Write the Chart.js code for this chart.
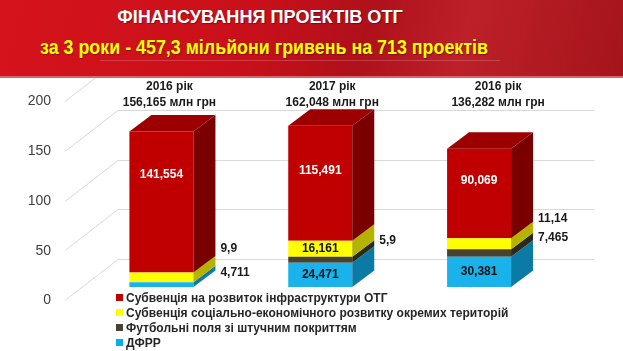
<!DOCTYPE html>
<html lang="uk">
<head>
<meta charset="utf-8">
<title>Фінансування проектів ОТГ</title>
<script src="https://cdn.jsdelivr.net/npm/chart.js@4.4.1/dist/chart.umd.min.js"></script>
<style>
  html, body { margin: 0; padding: 0; background: #fff; }
  #wrap { position: relative; width: 623px; height: 351px; overflow: hidden;
          font-family: "Liberation Sans", Arial, sans-serif; }
  #chartBox { position: absolute; left: 0; top: 0; width: 623px; height: 351px; }
  #banner { position: absolute; left: 0; top: 0; width: 623px; height: 76px; z-index: 2;
            background: linear-gradient(105deg, #d5131c 0%, #c9101a 40%, #af111a 58%, #bd2028 74%, #a5141b 100%);
            border-bottom: 2px solid #d9646a; }
  #banner .line { position: absolute; left: 100px; top: 60px; width: 400px; height: 0;
                  border-top: 1px solid rgba(255,255,255,0.18); }
  .ttl { position: absolute; white-space: nowrap; font-weight: bold; line-height: 1;
         text-shadow: 1px 1px 1px rgba(0,0,0,0.35); }
  #t1 { left: 260px; top: 8px; font-size: 18.5px; color: #fff; }
  #t2 { left: 264px; top: 37px; font-size: 20px; color: #ffff00; }
  #legend { position: absolute; left: 116px; top: 291px; z-index: 1;
            font-size: 12px; font-weight: bold; color: #262626; line-height: 15px; }
  #legend .sw { display: inline-block; width: 7px; height: 7px; margin-right: 3px; vertical-align: 1px; }
</style>
</head>
<body>
<div id="wrap">
  <div id="chartBox"><canvas id="otgChart"></canvas></div>
  <div id="banner">
    <div class="line"></div>
    <div class="ttl" id="t1">ФІНАНСУВАННЯ ПРОЕКТІВ ОТГ</div>
    <div class="ttl" id="t2">за 3 роки - 457,3 мільйони гривень на 713 проектів</div>
  </div>
  <div id="legend"></div>
</div>
<script>
// data (млн грн)
const years = ['2016 рік', '2017 рік', '2016 рік'];
const totals = ['156,165 млн грн', '162,048 млн грн', '136,282 млн грн'];
const dfrr = [4.711, 24.471, 30.381];
const football = [0, 5.9, 7.465];
const socialSubv = [9.9, 16.161, 11.14];
const infraSubv = [141.554, 115.491, 90.069];
const yTicks = [0, 50, 100, 150, 200];

Chart.defaults.font.family = '"Liberation Sans", Arial, sans-serif';

const depth = { dx: 22, dy: 16.5 };   // bar extrusion
const wall = { dx: 36, dy: 28 };      // floor depth to back wall

const fmt = v => String(v).replace('.', ',');

const bars3d = {
  id: 'bars3d',
  beforeDatasetsDraw(chart) {
    const { ctx, chartArea, scales } = chart;
    const y = scales.y;
    ctx.save();
    ctx.strokeStyle = '#d9d9d9';
    ctx.lineWidth = 1;
    yTicks.forEach(v => {
      const py = Math.round(y.getPixelForValue(v)) + 0.5;
      ctx.beginPath();
      ctx.moveTo(chartArea.left - 17, py + 13);
      ctx.lineTo(chartArea.left + wall.dx, py - wall.dy);
      ctx.lineTo(chartArea.right + wall.dx, py - wall.dy);
      ctx.stroke();
    });
    ctx.restore();
  },
  afterDatasetsDraw(chart) {
    const { ctx, chartArea } = chart;
    const sets = chart.data.datasets;
    ctx.save();
    // side and top faces
    sets.forEach((ds, di) => {
      const meta = chart.getDatasetMeta(di);
      meta.data.forEach((bar, i) => {
        if (!ds.data[i]) return;
        const { x, y, base, width } = bar.getProps(['x', 'y', 'base', 'width'], true);
        const l = x - width / 2, r = x + width / 2;
        ctx.fillStyle = ds.sideColor;
        ctx.beginPath();
        ctx.moveTo(r, base);
        ctx.lineTo(r, y);
        ctx.lineTo(r + depth.dx, y - depth.dy);
        ctx.lineTo(r + depth.dx, base - depth.dy);
        ctx.closePath();
        ctx.fill();
        const isTop = sets.slice(di + 1).every(o => !o.data[i]);
        if (isTop) {
          ctx.fillStyle = ds.topColor;
          ctx.beginPath();
          ctx.moveTo(l, y);
          ctx.lineTo(l + depth.dx, y - depth.dy);
          ctx.lineTo(r + depth.dx, y - depth.dy);
          ctx.lineTo(r, y);
          ctx.closePath();
          ctx.fill();
        }
      });
    });
    // value labels
    ctx.font = 'bold 12px "Liberation Sans", Arial, sans-serif';
    ctx.textBaseline = 'middle';
    sets.forEach((ds, di) => {
      const meta = chart.getDatasetMeta(di);
      meta.data.forEach((bar, i) => {
        const v = ds.data[i];
        const place = ds.labelPlace[i];
        if (!v || !place) return;
        const { x, y, base, width } = bar.getProps(['x', 'y', 'base', 'width'], true);
        if (place === 'in') {
          ctx.textAlign = 'center';
          ctx.fillStyle = ds.labelColor;
          const ty = ds.labelDy ? y + ds.labelDy[i] : (y + base) / 2;
          ctx.fillText(fmt(v), x, ty);
        } else {
          ctx.textAlign = 'left';
          ctx.fillStyle = '#1a1a1a';
          ctx.fillText(fmt(v), x + width / 2 + 27, y + ds.outDy[i]);
        }
      });
    });
    // headers above the stacks
    const headerDx = [8, 12, 19];
    ctx.textAlign = 'center';
    ctx.fillStyle = '#1a1a1a';
    chart.getDatasetMeta(0).data.forEach((bar, i) => {
      const hx = bar.x + headerDx[i];
      ctx.fillText(years[i], hx, chartArea.top - 1.5);
      ctx.fillText(totals[i], hx, chartArea.top + 15);
    });
    ctx.restore();
  }
};

const chart = new Chart(document.getElementById('otgChart'), {
  type: 'bar',
  data: {
    labels: years,
    datasets: [
      { label: 'ДФРР', data: dfrr, backgroundColor: '#19b2ea', sideColor: '#0b7ba6', topColor: '#3cc4f2',
        legendColor: '#00b0f0', labelPlace: ['out', 'in', 'in'], labelColor: '#111', outDy: [-10, 0, 0] },
      { label: 'Футбольні поля зі штучним покриттям', data: football, backgroundColor: '#4a4030',
        sideColor: '#2d281c', topColor: '#5a5040', legendColor: '#4a4232',
        labelPlace: [null, 'out', 'out'], labelColor: '#111', outDy: [0, -16, -12] },
      { label: 'Субвенція соціально-економічного розвитку окремих територій', data: socialSubv,
        backgroundColor: '#ffff00', sideColor: '#b3b300', topColor: '#d8d800', legendColor: '#ffff00',
        labelPlace: ['out', 'in', 'out'], labelColor: '#111', outDy: [-24, 0, -20] },
      { label: 'Субвенція на розвиток інфраструктури ОТГ', data: infraSubv, backgroundColor: '#c00000',
        sideColor: '#7a0000', topColor: '#9c0000', legendColor: '#c00000',
        labelPlace: ['in', 'in', 'in'], labelColor: '#fff', labelDy: [43, 45, 32] }
    ]
  },
  options: {
    responsive: true,
    maintainAspectRatio: false,
    animation: false,
    layout: { padding: { top: 88, bottom: 64, left: 0, right: 64.5 } },
    datasets: { bar: { barPercentage: 0.403, categoryPercentage: 1 } },
    plugins: { legend: { display: false }, tooltip: { enabled: false } },
    scales: {
      x: { stacked: true, display: false },
      y: {
        stacked: true, min: 0, max: 200,
        grid: { display: false, drawTicks: false },
        border: { display: false },
        ticks: { stepSize: 50, padding: 31, labelOffset: 13.5, color: '#404040', font: { size: 14 } },
        afterFit(s) { s.width = 82; }
      }
    }
  },
  plugins: [bars3d]
});

// legend, top series first
const legend = document.getElementById('legend');
chart.data.datasets.slice().reverse().forEach(ds => {
  const row = document.createElement('div');
  const sw = document.createElement('span');
  sw.className = 'sw';
  sw.style.background = ds.legendColor;
  row.appendChild(sw);
  row.appendChild(document.createTextNode(ds.label));
  legend.appendChild(row);
});

// squeeze the banner lines to their width in the picture
function fit(id, w) {
  const el = document.getElementById(id);
  el.style.transform = 'translateX(-50%) scaleX(' + (w / el.offsetWidth) + ')';
}
fit('t1', 286);
fit('t2', 448);
</script>
</body>
</html>
